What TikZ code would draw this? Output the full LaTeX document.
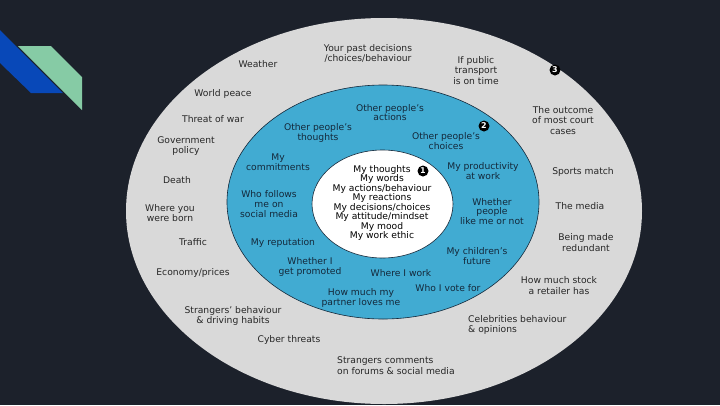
\documentclass[tikz,border=0pt]{standalone}
\usepackage{fontspec}
\setmainfont{DejaVu Sans}
\usetikzlibrary{shapes.geometric}
\definecolor{bgnavy}{HTML}{1C212B}
\definecolor{ringgrey}{HTML}{D9D9D9}
\definecolor{ringblue}{HTML}{41ABD2}
\definecolor{decoblue}{HTML}{0848B8}
\definecolor{decomint}{HTML}{86CBA5}
\definecolor{greytext}{HTML}{262626}
\definecolor{bluetext}{HTML}{14283A}
\tikzset{
  ringshape/.style={ellipse, inner sep=0pt},
  outertxt/.style={align=center, text=greytext, inner sep=0pt, font=\fontsize{9.2}{10.6}\selectfont},
  outerleft/.style={outertxt, align=left},
  bluetxt/.style={align=center, text=bluetext, inner sep=0pt, font=\fontsize{9.2}{9.8}\selectfont},
  innertxt/.style={align=center, text=black, inner sep=0pt, font=\fontsize{9.2}{9.5}\selectfont},
  badge/.style={circle, fill=black, text=white, inner sep=0pt, minimum size=11pt, font=\bfseries\fontsize{8}{8}\selectfont}
}
\begin{document}
\begin{tikzpicture}[x=1pt,y=-1pt]
\fill[bgnavy] (0,0) rectangle (720,405);
\useasboundingbox (0,0) rectangle (720,405);
% decoration
\fill[decoblue] (0,30) -- (63,93) -- (31,93) -- (0,63) -- cycle;
\fill[decomint] (18,46) -- (51,46) -- (82,77) -- (82,110) -- cycle;
% rings
\node[ringshape, fill=ringgrey, minimum width=516pt, minimum height=386pt] (outer) at (384,211) {};
\node[ringshape, fill=ringblue, draw=bluetext, line width=0.6pt, minimum width=312pt, minimum height=234pt] (middle) at (383,202) {};
\node[ringshape, fill=white, draw=bluetext, line width=0.6pt, minimum width=141pt, minimum height=108pt] (inner) at (382.5,204) {};
% badges
\node[badge] (b1) at (423,171) {1};
\node[badge] (b2) at (484,126) {2};
\node[badge] (b3) at (555,70) {3};
% inner texts
\node[innertxt] (core) at (382,203) {My thoughts\\My words\\My actions/behaviour\\My reactions\\My decisions/choices\\My attitude/mindset\\My mood\\My work ethic};
% blue ring texts
\node[bluetxt] (opa) at (390,112.5) {Other people's\\actions};
\node[bluetxt] (opt) at (318,133) {Other people's\\thoughts};
\node[bluetxt] (opc) at (446,141) {Other people's\\choices};
\node[bluetxt] (mycom) at (278,162.5) {My\\commitments};
\node[bluetxt] (prod) at (483,171) {My productivity\\at work};
\node[bluetxt] (follow) at (269,204) {Who follows\\me on\\social media};
\node[bluetxt] (like) at (492,211.5) {Whether\\people\\like me or not};
\node[bluetxt] (rep) at (283,243) {My reputation};
\node[bluetxt] (child) at (477,256) {My children's\\future};
\node[bluetxt] (promo) at (310,267) {Whether I\\get promoted};
\node[bluetxt] (work) at (401,273.5) {Where I work};
\node[bluetxt] (vote) at (448,288) {Who I vote for};
\node[bluetxt] (partner) at (361,298) {How much my\\partner loves me};
% outer ring texts
\node[outertxt] (weather) at (258,64) {Weather};
\node[outertxt] (past) at (368,53.5) {Your past decisions\\/choices/behaviour};
\node[outertxt] (transport) at (476,70.5) {If public\\transport\\is on time};
\node[outertxt] (court) at (563,120.5) {The outcome\\of most court\\cases};
\node[outertxt] (sports) at (583,172) {Sports match};
\node[outertxt] (media) at (580,206) {The media};
\node[outertxt] (redund) at (586,242.5) {Being made\\redundant};
\node[outertxt] (stock) at (559,285.5) {How much stock\\a retailer has};
\node[outerleft, anchor=west] (celeb) at (468,325) {Celebrities behaviour\\\& opinions};
\node[outerleft, anchor=west] (strcom) at (337,365.5) {Strangers comments\\on forums \& social media};
\node[outertxt] (cyber) at (289,340) {Cyber threats};
\node[outertxt] (strdrive) at (233,316) {Strangers' behaviour\\\& driving habits};
\node[outertxt] (economy) at (193,273) {Economy/prices};
\node[outertxt] (traffic) at (193,242) {Traffic};
\node[outertxt] (born) at (170,213) {Where you\\were born};
\node[outertxt] (death) at (177,180) {Death};
\node[outertxt] (gov) at (186,146) {Government\\policy};
\node[outertxt] (war) at (213,119) {Threat of war};
\node[outertxt] (peace) at (223,94) {World peace};
\end{tikzpicture}
\end{document}
